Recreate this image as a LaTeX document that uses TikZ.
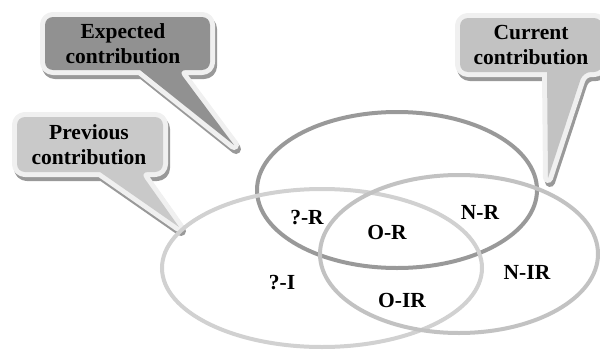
\documentclass[tikz,border=0pt]{standalone}
\usepackage{fontspec}
\setmainfont{Liberation Serif}
\begin{document}
\begin{tikzpicture}[x=1pt,y=-1pt,
  lbl/.style={font=\fontsize{21.5}{25}\selectfont\bfseries, text=black, align=center, inner sep=0pt},
  shadowline/.style={draw=black!40, line width=10pt, fill=black!40, line join=round},
  glowline/.style={draw=black!6, line width=10pt, fill=black!6, line join=round},
  setA/.style={draw=black!40, line width=4pt},
  setB/.style={draw=black!18, line width=4pt},
  setC/.style={draw=black!24, line width=4pt}]
\useasboundingbox (0,0) rectangle (600,351);
\definecolor{expfill}{gray}{0.57}
\definecolor{prevfill}{gray}{0.79}
\definecolor{curfill}{gray}{0.76}
\def\pathExp{(45,44) [rounded corners=8pt] -- (45,17) -- (210,17) -- (210,70) -- (178,70) [sharp corners] -- (234,145) -- (140,70) [rounded corners=8pt] -- (45,70) -- cycle}
\def\pathPrev{(17,144) [rounded corners=8pt] -- (17,117) -- (163,117) -- (163,172) -- (140,172) [sharp corners] -- (179,227) -- (100,172) [rounded corners=8pt] -- (17,172) -- cycle}
\def\pathCur{(460,45) [rounded corners=8pt] -- (460,18) -- (602,18) -- (602,72) -- (583,72) [sharp corners] -- (548,178) -- (547,72) [rounded corners=8pt] -- (460,72) -- cycle}
\begin{scope}[shift={(2,4)}]
  \path[shadowline] \pathExp;
  \path[shadowline] \pathPrev;
  \path[shadowline] \pathCur;
\end{scope}
\path[glowline] \pathExp;
\path[fill=expfill] \pathExp;
\path[glowline] \pathPrev;
\path[fill=prevfill] \pathPrev;
\path[glowline] \pathCur;
\path[fill=curfill] \pathCur;
\node[lbl] (exp) at (123,44) {Expected\\contribution};
\node[lbl] (prev) at (89,145) {Previous\\contribution};
\node[lbl] (cur) at (531,45) {Current\\contribution};
% sets
\draw[setA] (397,190) ellipse [x radius=140, y radius=78];
\draw[setB] (322,268) ellipse [x radius=160, y radius=79];
\draw[setC] (459,254) ellipse [x radius=139, y radius=79];
\node[lbl] (qr) at (307,218) {?-R};
\node[lbl] (or) at (387,232) {O-R};
\node[lbl] (nr) at (480,212) {N-R};
\node[lbl] (nir) at (527,272) {N-IR};
\node[lbl] (qi) at (282,283) {?-I};
\node[lbl] (oir) at (402,300) {O-IR};
\end{tikzpicture}
\end{document}
